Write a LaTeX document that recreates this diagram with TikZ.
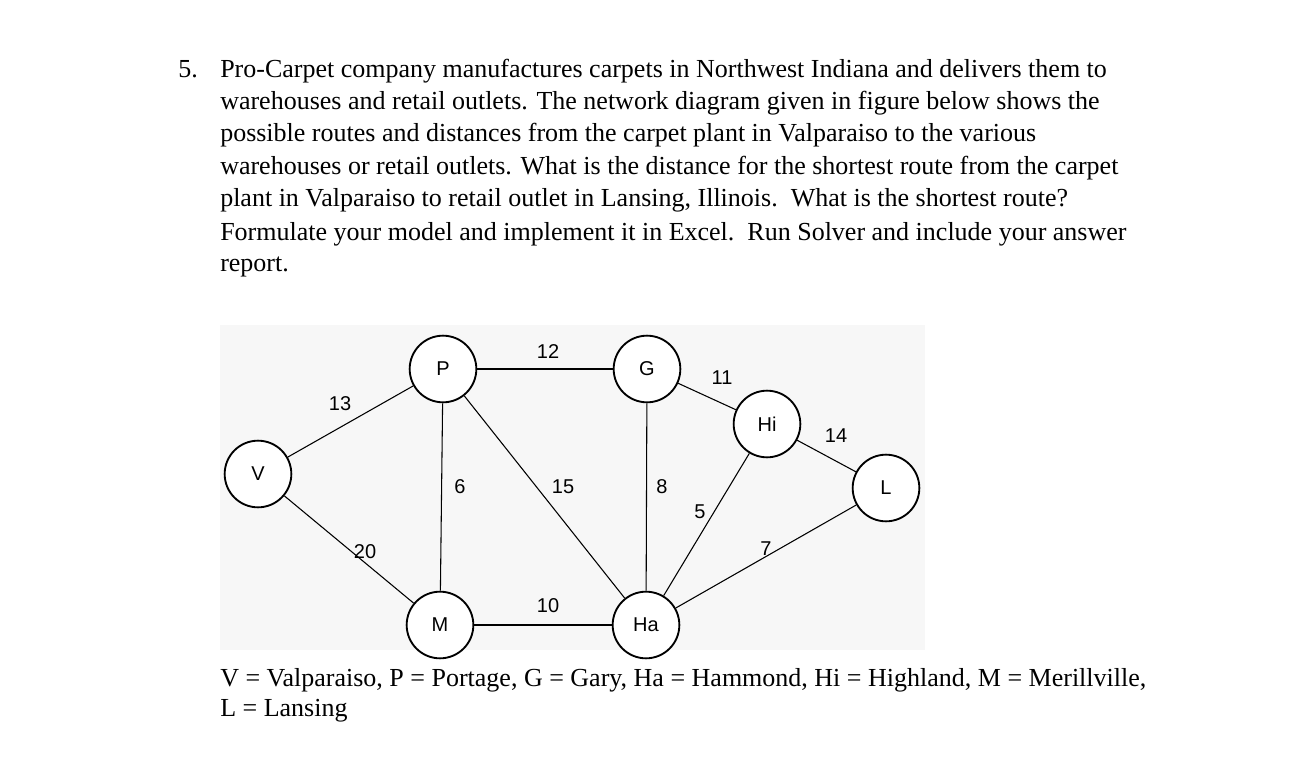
\documentclass[tikz,border=0pt]{standalone}
\usepackage{fontspec}
\setmainfont{Liberation Serif}
\newfontfamily\arialf{Liberation Sans}
\begin{document}
\begin{tikzpicture}[x=0.75pt,y=-0.75pt,
  txt/.style={anchor=base west,inner sep=0pt,font=\fontsize{19.5pt}{24pt}\selectfont},
  vtx/.style={draw,circle,line width=1.4pt,minimum size=50pt,inner sep=0pt,font=\arialf\fontsize{15pt}{17pt}\selectfont,fill=white},
  edge/.style={line width=0.8pt},
  wt/.style={font=\arialf\fontsize{15pt}{17pt}\selectfont,inner sep=0pt}]
\useasboundingbox (0,0) rectangle (1303,781);
\fill[white] (0,0) rectangle (1303,781);
\fill[black!3] (220,325) rectangle (925,650);
\node[txt] (t0) at (178,78) {5.};
\node[txt] (t1) at (220,78) {Pro-Carpet company manufactures carpets in Northwest Indiana and delivers them to};
\node[txt] (t2) at (220,110) {warehouses and retail outlets. The network diagram given in figure below shows the};
\node[txt] (t3) at (220,142) {possible routes and distances from the carpet plant in Valparaiso to the various};
\node[txt] (t4) at (220,175) {warehouses or retail outlets. What is the distance for the shortest route from the carpet};
\node[txt] (t5) at (220,207) {plant in Valparaiso to retail outlet in Lansing, Illinois.\ \ What is the shortest route?};
\node[txt] (t6) at (220,240) {Formulate your model and implement it in Excel.\ \ Run Solver and include your answer};
\node[txt] (t7) at (220,272) {report.};
\node[txt] (t8) at (220,686) {V = Valparaiso, P = Portage, G = Gary, Ha = Hammond, Hi = Highland, M = Merillville,};
\node[txt] (t9) at (220,716) {L = Lansing};
\node[vtx] (V) at (258,474) {V};
\node[vtx] (P) at (443,369) {P};
\node[vtx] (G) at (647,369) {G};
\node[vtx] (Hi) at (767,424) {Hi};
\node[vtx] (L) at (886,488) {L};
\node[vtx] (M) at (440,625) {M};
\node[vtx] (Ha) at (646,625) {Ha};
\draw[edge] (V) -- (P); \draw[edge] (V) -- (M);
\draw[edge] (P) -- (G); \draw[edge] (P) -- (M); \draw[edge] (P) -- (Ha);
\draw[edge] (G) -- (Hi); \draw[edge] (G) -- (Ha);
\draw[edge] (Hi) -- (L); \draw[edge] (Hi) -- (Ha);
\draw[edge] (L) -- (Ha); \draw[edge] (M) -- (Ha);
\node[wt] (w13) at (340,404) {13};
\node[wt] (w12) at (548,352) {12};
\node[wt] (w11) at (722,378) {11};
\node[wt] (w14) at (836,436) {14};
\node[wt] (w6) at (460,487) {6};
\node[wt] (w15) at (563,487) {15};
\node[wt] (w8) at (662,487) {8};
\node[wt] (w5) at (700,512) {5};
\node[wt] (w20) at (365,552) {20};
\node[wt] (w7) at (766,549) {7};
\node[wt] (w10) at (548,606) {10};
\end{tikzpicture}
\end{document}
